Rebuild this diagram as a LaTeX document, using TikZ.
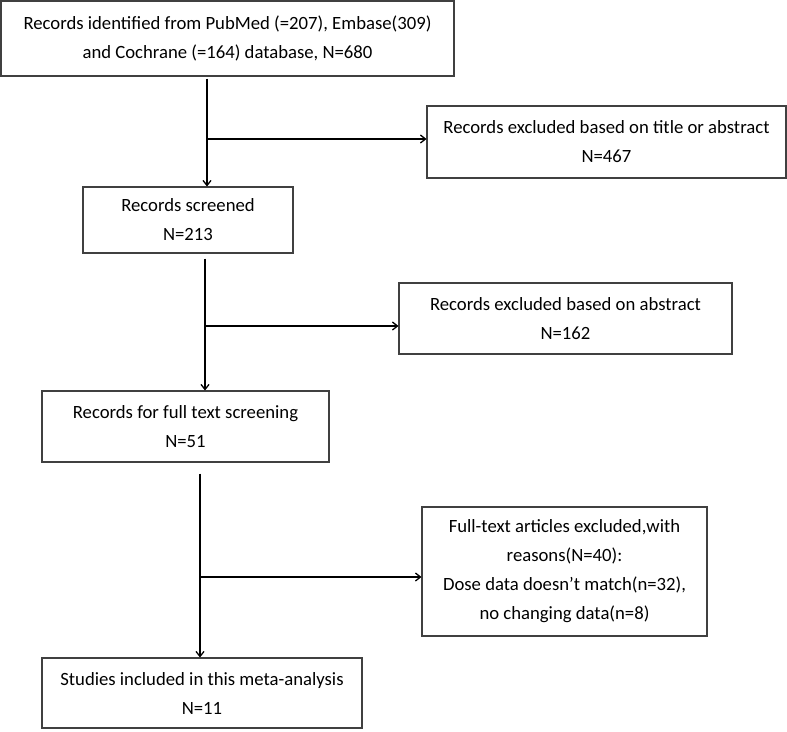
\documentclass[tikz,border=0pt]{standalone}
\usepackage{fontspec}
\setmainfont{Carlito}
\usetikzlibrary{arrows.meta}
\begin{document}
\begin{tikzpicture}[x=1pt,y=-1pt,
  box/.style={draw=black!75,line width=1.1pt,rectangle,inner sep=0pt,align=center,
    font=\fontsize{18.7}{29}\selectfont},
  conn/.style={line width=1.3pt,-{Straight Barb[length=5pt,width=8pt]}}]
\useasboundingbox (0,0) rectangle (787,731);
\fill[white] (0,0) rectangle (787,731);
\node[box,minimum width=453pt,minimum height=75pt] (b1) at (227.5,38.5)
  {Records identified from PubMed (=207), Embase(309)\\and Cochrane (=164) database, N=680};
\node[box,minimum width=359pt,minimum height=72pt] (e1) at (606.5,142)
  {Records excluded based on title or abstract\\N=467};
\node[box,minimum width=210pt,minimum height=66pt] (b2) at (188,220)
  {Records screened\\N=213};
\node[box,minimum width=333pt,minimum height=71pt] (e2) at (565.5,318.5)
  {Records excluded based on abstract\\N=162};
\node[box,minimum width=287pt,minimum height=71pt] (b3) at (185.5,426.5)
  {Records for full text screening\\N=51};
\node[box,minimum width=285pt,minimum height=129pt] (e3) at (564.5,571.5)
  {Full-text articles excluded,with\\reasons(N=40):\\Dose data doesn’t match(n=32),\\no changing data(n=8)};
\node[box,minimum width=320pt,minimum height=70pt] (b4) at (202,693)
  {Studies included in this meta-analysis\\N=11};
\coordinate (j1) at (207,139);
\coordinate (j2) at (205,326);
\coordinate (j3) at (200,577);
\draw[conn,shorten <=2pt] (b1.south -| j1) -- (b2.north -| j1);
\draw[conn] (j1) -- (j1 -| e1.west);
\draw[conn,shorten <=5pt] (b2.south -| j2) -- (b3.north -| j2);
\draw[conn] (j2) -- (j2 -| e2.west);
\draw[conn,shorten <=11pt] (b3.south -| j3) -- (b4.north -| j3);
\draw[conn] (j3) -- (j3 -| e3.west);
\end{tikzpicture}
\end{document}
